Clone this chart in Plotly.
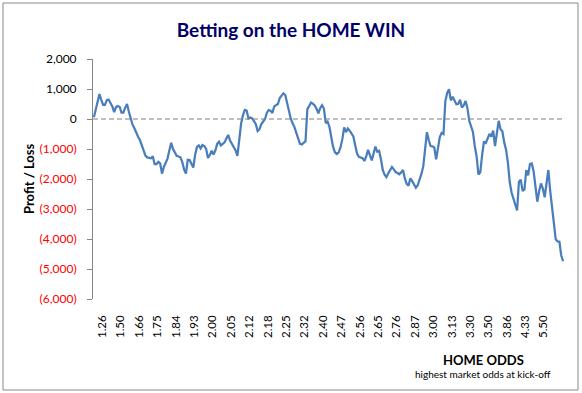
import plotly.graph_objects as go

# Cumulative profit/loss for each bet, ordered by home odds
profit = [
    60, 300, 540, 830, 640, 470, 470, 630, 650, 540,
    420, 230, 400, 430, 400, 210, 210, 380, 500, 240,
    20, -190, -310, -480, -590, -700, -900, -1080, -1220, -1280,
    -1300, -1310, -1240, -1500, -1500, -1430, -1480, -1820, -1600, -1430,
    -1320, -1050, -790, -1000, -1140, -1230, -1250, -1277, -1430, -1680,
    -1820, -1360, -1370, -1500, -1620, -1200, -930, -880, -980, -870,
    -900, -1000, -1300, -1200, -1060, -1180, -1050, -830, -760, -880,
    -830, -780, -650, -530, -720, -830, -900, -1050, -1230, -600,
    -150, 120, 300, 277, 20, 50, 20, -70, -170, -400,
    -340, -170, -90, 0, 210, 300, 280, 200, 420, 460,
    500, 700, 780, 857, 800, 500, 240, 10, -140, -270,
    -460, -690, -830, -850, -780, -740, 320, 450, 550, 510,
    450, 340, 190, 360, 460, 350, -140, -90, -257, -600,
    -930, -1110, -1167, -1120, -950, -680, -277, -440, -320, -390,
    -500, -580, -867, -1150, -1260, -1280, -1305, -1400, -1250, -1030,
    -1240, -1380, -1150, -920, -1090, -1060, -1340, -1700, -1860, -1940,
    -1810, -1700, -1600, -1680, -1770, -1800, -1840, -1780, -1700, -1980,
    -2160, -2220, -1977, -2070, -2200, -2290, -2210, -2050, -1830, -1580,
    -1000, -440, -710, -900, -910, -950, -1343, -920, -600, -460,
    -500, 590, 870, 990, 620, 740, 630, 490, 500, 640,
    380, 450, 600, 370, -60, -280, -430, -900, -1250, -1850,
    -1780, -1200, -750, -800, -620, -500, -590, -390, -900, -500,
    -60, -343, -410, -780, -1020, -1450, -2100, -2450, -2630, -2860,
    -3050, -2100, -2020, -2400, -2350, -1700, -1880, -1500, -1480, -1750,
    -2300, -2757, -2400, -2150, -2320, -2610, -2150, -1700, -2400, -2950,
    -3500, -4010, -4080, -4090, -4550, -4740,
]
bet_index = list(range(len(profit)))

# Category labels shown on the x axis (one label per group of 10 bets)
odds_labels = ["1.26", "1.50", "1.66", "1.75", "1.84", "1.93", "2.00", "2.05",
               "2.12", "2.18", "2.25", "2.32", "2.40", "2.47", "2.56", "2.65",
               "2.76", "2.87", "3.00", "3.13", "3.30", "3.50", "3.86", "4.33",
               "5.50"]
label_group = 10
label_pos = [i * label_group + (label_group - 1) / 2 for i in range(len(odds_labels))]

y_ticks = [2000, 1000, 0, -1000, -2000, -3000, -4000, -5000, -6000]


def fmt(v):
    if v < 0:
        return '<span style="color:#FF0000">({:,})</span>'.format(-v)
    return "{:,}".format(v)


y_ticktext = [fmt(v) for v in y_ticks]

FONT = "Lato"

fig = go.Figure()
fig.add_trace(go.Scatter(
    x=bet_index, y=profit, mode="lines",
    line=dict(color="#4A7EBB", width=2.25),
    hoverinfo="skip", showlegend=False,
))

fig.update_layout(
    width=582, height=393,
    margin=dict(l=93, r=18, t=59, b=94),
    paper_bgcolor="white", plot_bgcolor="white",
    font=dict(family=FONT, size=11, color="black"),
    title=dict(text="<b>Betting on the HOME WIN</b>", xref="container", yref="container",
               x=0.5, xanchor="center", y=1 - 30 / 393, yanchor="middle",
               font=dict(family=FONT, size=19, color="#000066")),
    xaxis=dict(range=[-0.5, len(profit) - 0.5], showgrid=False, zeroline=False,
               showline=False, tickmode="array", tickvals=label_pos, ticktext=odds_labels,
               tickangle=-90, ticks="", ticklabelstandoff=13,
               tickfont=dict(family=FONT, size=11.5, color="black")),
    yaxis=dict(range=[-6000, 2000], showgrid=False, zeroline=False,
               showline=True, linecolor="#868686", linewidth=1,
               ticks="outside", ticklen=5, tickcolor="#868686",
               tickmode="array", tickvals=y_ticks, ticktext=y_ticktext,
               ticklabelstandoff=8,
               tickfont=dict(family=FONT, size=12, color="black")),
)

# dashed category axis crossing at zero
fig.add_shape(type="line", xref="paper", yref="y", x0=0, x1=1, y0=0, y1=0,
              line=dict(color="#7F7F7F", width=1, dash="5px,3px"))

# outer chart border
pw, ph = 582 - 93 - 18, 393 - 59 - 94
fig.add_shape(type="rect", xref="paper", yref="paper",
              x0=(3 - 93) / pw, x1=(578 - 93) / pw,
              y0=(299 - 390) / ph, y1=(299 - 3) / ph,
              line=dict(color="#888888", width=1))

fig.add_annotation(text="<b>Profit / Loss</b>", xref="paper", yref="paper",
                   x=(29 - 93) / pw, y=0.5, textangle=-90, showarrow=False,
                   xanchor="center", yanchor="middle",
                   font=dict(family=FONT, size=13, color="black"))
fig.add_annotation(text="<b>HOME ODDS</b>", xref="paper", yref="paper",
                   x=(483 - 93) / pw, y=(299 - 360) / ph, showarrow=False,
                   xanchor="center", yanchor="middle",
                   font=dict(family=FONT, size=13, color="black"))
fig.add_annotation(text="highest market odds at kick-off", xref="paper", yref="paper",
                   x=(483 - 93) / pw, y=(299 - 374) / ph, showarrow=False,
                   xanchor="center", yanchor="middle",
                   font=dict(family=FONT, size=10, color="black"))

fig.write_html("out.html", config={"displayModeBar": False},
               post_script="document.body.style.margin='0';")
